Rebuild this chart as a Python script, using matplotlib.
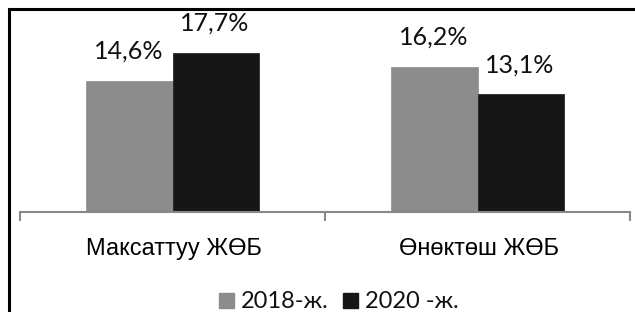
import matplotlib
matplotlib.use("Agg")
import matplotlib.pyplot as plt
from matplotlib.patches import Patch
from matplotlib.lines import Line2D
import numpy as np

categories = ["Максаттуу ЖӨБ", "Өнөктөш ЖӨБ"]
series_names = ["2018-ж.", "2020 -ж."]
values_2018 = [14.6, 16.2]
values_2020 = [17.7, 13.1]
colors = ["#8c8c8c", "#161616"]

W, H = 635, 312
fig = plt.figure(figsize=(W / 100, H / 100), dpi=100)

def fx(px):
    return px / W

def fy(py):
    return 1 - py / H

ax_left, ax_right, ax_top, ax_bottom = 20, 630, 15, 212
ax = fig.add_axes([fx(ax_left), fy(ax_bottom), fx(ax_right - ax_left), (ax_bottom - ax_top) / H])

calibri_like = ["Lato", "DejaVu Sans"]
arial_like = ["Liberation Sans", "DejaVu Sans"]

x = np.arange(len(categories))
bw = 0.282
series = [values_2018, values_2020]
for i, (vals, col) in enumerate(zip(series, colors)):
    offs = (i - 0.5) * bw
    ax.bar(x + offs, vals, width=bw, color=col, edgecolor=col, linewidth=0.5, zorder=2)
    for xi, v in zip(x + offs, vals):
        ax.annotate(f"{v:.1f}".replace(".", ",") + "%", (xi, v), xytext=(-1, 18),
                    textcoords="offset pixels", ha="center", va="bottom",
                    fontsize=18, family=calibri_like, color="#111111")

ax.set_xlim(-0.5, len(categories) - 0.5)
ax.set_ylim(0, (ax_bottom - ax_top) / 8.98)
for s in ["top", "right", "left"]:
    ax.spines[s].set_visible(False)
ax.spines["bottom"].set_color("#888888")
ax.spines["bottom"].set_linewidth(1.5)
ax.set_yticks([])
ax.set_xticks(np.arange(len(categories) + 1) - 0.5)
ax.set_xticklabels([])
ax.tick_params(axis="x", direction="out", length=6.5, width=1.5, color="#888888")

label_y = (ax_bottom - 255) / (ax_bottom - ax_top)
for xi, c in zip(x, categories):
    ax.text(xi + 0.005, label_y, c, transform=ax.get_xaxis_transform(), ha="center",
            va="baseline", fontsize=17, family=arial_like, color="#000000")

handles = [Patch(facecolor=c, edgecolor=c) for c in colors]
fig.legend(handles, series_names, loc="center", bbox_to_anchor=(fx(339), fy(302)),
           ncol=2, frameon=False, prop={"family": calibri_like, "size": 17},
           handlelength=0.62, handleheight=0.62, handletextpad=0.3, columnspacing=0.6,
           borderpad=0, labelcolor="#111111")

# outer frame (left and top visible)
fig.add_artist(Line2D([fx(8.5), fx(8.5)], [fy(8.5), 0], color="black", lw=2.2, transform=fig.transFigure))
fig.add_artist(Line2D([fx(8.5), 1], [fy(8.5), fy(8.5)], color="black", lw=2.2, transform=fig.transFigure))

fig.savefig("out.png", dpi=100, facecolor="white")
